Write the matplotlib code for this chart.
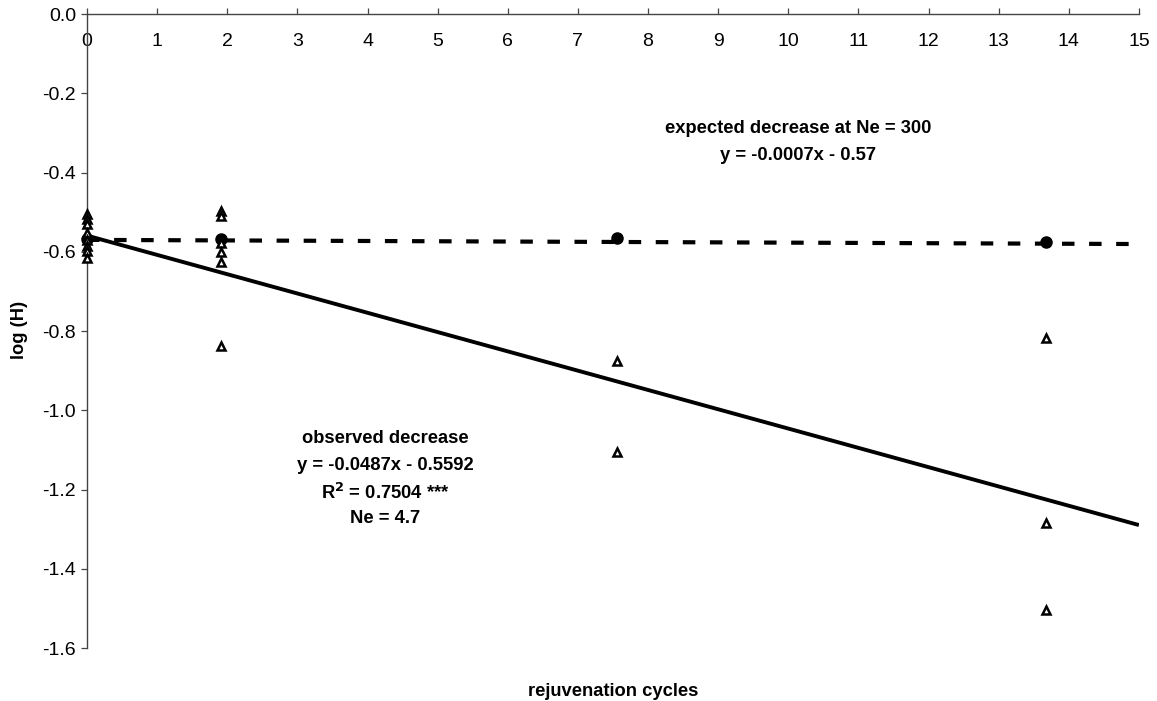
import matplotlib
matplotlib.use("Agg")
import matplotlib.pyplot as plt
import numpy as np
from matplotlib.ticker import FormatStrFormatter

plt.rcParams['font.family'] = ['Liberation Sans', 'DejaVu Sans']
plt.rcParams['axes.unicode_minus'] = False

# Observed log(H) values (open triangles)
obs_x = [0, 0, 0, 0, 0, 0, 0, 0,
         1.91, 1.91, 1.91, 1.91, 1.91, 1.91,
         7.56, 7.56,
         13.67, 13.67, 13.67]
obs_y = [-0.505, -0.518, -0.53, -0.553, -0.571, -0.585, -0.597, -0.615,
         -0.497, -0.510, -0.578, -0.600, -0.625, -0.837,
         -0.876, -1.106,
         -0.817, -1.285, -1.503]

# Expected points at Ne = 300 (filled circles)
exp_x = [0, 1.91, 7.56, 13.67]
exp_y = [-0.567, -0.567, -0.565, -0.575]

# Regression lines
obs_slope, obs_icpt = -0.0487, -0.5592
exp_slope, exp_icpt = -0.0007, -0.57
line_x = [0, 15]

x_ticks = list(range(0, 16))
y_ticks = [0.0, -0.2, -0.4, -0.6, -0.8, -1.0, -1.2, -1.4, -1.6]

fig = plt.figure(figsize=(11.57, 7.01), dpi=100)
ax = fig.add_axes([0.0752, 0.0756, 0.9092, 0.9044])

lx = np.array(line_x, dtype=float)
ax.plot(lx, obs_slope * lx + obs_icpt, color='black', lw=2.8, solid_capstyle='butt', zorder=2)
ax.plot(lx, exp_slope * lx + exp_icpt, color='black', lw=3.0, dashes=(3.0, 3.5), zorder=2)
ax.plot(exp_x, exp_y, 'o', color='black', ms=8, zorder=3, clip_on=False)
ax.plot(obs_x, obs_y, '^', mfc='white', mec='black', mew=1.8, ms=6, ls='none',
        zorder=4, clip_on=False)

ax.set_xlim(0, 15)
ax.set_ylim(-1.6, 0.0)
ax.set_xticks(x_ticks)
ax.set_yticks(y_ticks)
ax.yaxis.set_major_formatter(FormatStrFormatter('%.1f'))

for s in ['bottom', 'right']:
    ax.spines[s].set_visible(False)
for s in ['top', 'left']:
    ax.spines[s].set_color('#444444')
    ax.spines[s].set_linewidth(1.0)

ax.tick_params(axis='x', top=True, bottom=False, labeltop=True, labelbottom=False,
               direction='out', length=4, width=0.9, color='#444444',
               pad=-30, labelsize=14)
ax.tick_params(axis='y', left=True, direction='out', length=4, width=0.9,
               color='#444444', pad=4, labelsize=14)

fs = 13.2
ax.text(10.14, -0.289, 'expected decrease at Ne = 300', ha='center', va='center',
        fontsize=fs, fontweight='bold')
ax.text(10.14, -0.357, 'y = -0.0007x - 0.57', ha='center', va='center',
        fontsize=fs, fontweight='bold')

ax.text(4.25, -1.072, 'observed decrease', ha='center', va='center',
        fontsize=fs, fontweight='bold')
ax.text(4.25, -1.140, 'y = -0.0487x - 0.5592', ha='center', va='center',
        fontsize=fs, fontweight='bold')
ax.text(4.25, -1.208, r'R$^{\mathbf{2}}$ = 0.7504 ***', ha='center', va='center',
        fontsize=fs, fontweight='bold')
ax.text(4.25, -1.273, 'Ne = 4.7', ha='center', va='center',
        fontsize=fs, fontweight='bold')

fig.text(20 / 1157, 1 - 330 / 701, 'log (H)', rotation=90, ha='center', va='center',
         fontsize=fs, fontweight='bold')
fig.text(613 / 1157, 1 - 691 / 701, 'rejuvenation cycles', ha='center', va='center',
         fontsize=fs, fontweight='bold')

fig.savefig('out.png', dpi=100)
